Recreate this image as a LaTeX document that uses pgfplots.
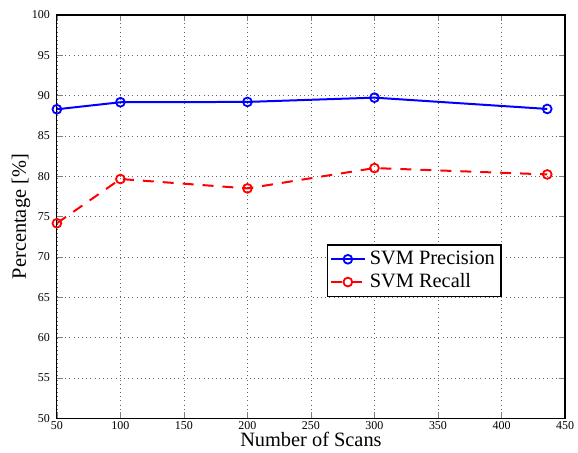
\documentclass[border=0pt]{standalone}
\usepackage{pgfplots}
\pgfplotsset{compat=1.18}
\usepackage{fontspec}
\setmainfont{Liberation Serif}
\begin{document}
\begin{tikzpicture}
\useasboundingbox (-28.5pt,-17pt) rectangle (261pt,209.5pt);
\begin{axis}[
  at={(0pt,0pt)}, anchor=south west,
  scale only axis,
  width=254.5pt, height=202pt,
  xmin=50, xmax=450, ymin=50, ymax=100,
  xtick={50,100,...,450}, ytick={50,55,...,100},
  tick align=inside,
  tick pos=both,
  major tick length=3pt,
  grid=major,
  grid style={black!60, dash pattern=on 0.5pt off 1.6pt, line width=0.4pt},
  axis line style={line width=0.6pt},
  /pgf/number format/assume math mode=true,
  ticklabel style={font=\fontsize{6}{7}\selectfont},
  xticklabel style={yshift=2pt},
  xlabel={Number of Scans},
  ylabel={Percentage [\%]},
  label style={font=\fontsize{10.2}{12}\selectfont},
  xlabel style={yshift=5.5pt},
  ylabel style={yshift=-6pt},
  legend style={at={(rel axis cs:0.532,0.431)}, anchor=north west,
    font=\fontsize{10.2}{12}\selectfont, draw=black, line width=0.6pt,
    inner sep=1pt, row sep=-1pt},
  legend cell align=left,
]
\addplot[blue, line width=1pt, mark=o, mark size=2.2pt, mark options={solid, line width=0.9pt}]
  coordinates {(50,88.31) (100,89.18) (200,89.22) (300,89.75) (436,88.35)};
\addlegendentry{SVM Precision}
\addplot[red, line width=1pt, dash pattern=on 5.5pt off 4.5pt, mark=o, mark size=2.2pt, mark options={solid, line width=0.9pt}]
  coordinates {(50,74.18) (100,79.66) (200,78.50) (300,81.02) (436,80.23)};
\addlegendentry{SVM Recall}
\end{axis}
\end{tikzpicture}
\end{document}
